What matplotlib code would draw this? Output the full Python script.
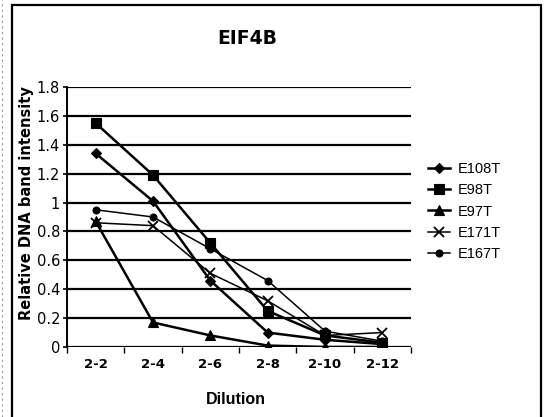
import matplotlib
matplotlib.use("Agg")
import matplotlib.pyplot as plt
from matplotlib.lines import Line2D
from matplotlib.patches import Rectangle

categories = ["2-2", "2-4", "2-6", "2-8", "2-10", "2-12"]
e108t = [1.34, 1.01, 0.46, 0.10, 0.05, 0.02]
e98t = [1.55, 1.19, 0.72, 0.25, 0.08, 0.03]
e97t = [0.87, 0.17, 0.08, 0.01, 0.00, 0.00]
e171t = [0.86, 0.84, 0.51, 0.32, 0.08, 0.10]
e167t = [0.95, 0.90, 0.68, 0.46, 0.11, 0.04]
y_ticks = [0, 0.2, 0.4, 0.6, 0.8, 1.0, 1.2, 1.4, 1.6, 1.8]
y_labels = ["0", "0.2", "0.4", "0.6", "0.8", "1", "1.2", "1.4", "1.6", "1.8"]

series = [
    ("E108T", e108t, "D", 5.5, 1.8),
    ("E98T", e98t, "s", 6.5, 1.8),
    ("E97T", e97t, "^", 6.5, 1.8),
    ("E171T", e171t, "x", 6.5, 1.1),
    ("E167T", e167t, "o", 5.0, 1.1),
]

W, H = 544, 417
fig = plt.figure(figsize=(W / 100, H / 100), dpi=100)
fig.patch.set_facecolor("white")


def fx(px):
    return px / W


def fy(py):
    return 1 - py / H


# outer chart frame
fig.add_artist(Rectangle((fx(12), -0.01), fx(541) - fx(12), fy(5) + 0.01,
                         transform=fig.transFigure, fill=False,
                         edgecolor="black", linewidth=1.6))
fig.add_artist(Line2D([fx(2), fx(2)], [0, 1], transform=fig.transFigure,
                      color="#999999", linewidth=0.8, linestyle=(0, (2, 3))))

left, right, top, bottom = 67, 411, 87, 347
ax = fig.add_axes([fx(left), fy(bottom), fx(right) - fx(left), fy(top) - fy(bottom)])

x = list(range(len(categories)))
for name, vals, mk, ms, lw in series:
    ax.plot(x, vals, color="black", linewidth=lw, marker=mk, markersize=ms,
            markeredgewidth=1.3 if mk == "x" else 0.8, label=name, zorder=3)

ax.set_xlim(-0.5, len(categories) - 0.5)
ax.set_ylim(0, 1.8)
ax.set_yticks(y_ticks)
ax.set_yticklabels(y_labels, fontfamily="DejaVu Sans", fontsize=10.5)
ax.set_xticks(x)
ax.set_xticklabels(categories, fontfamily="DejaVu Sans", fontsize=9.5, fontweight="bold")
ax.tick_params(axis="x", length=0, pad=8)
ax.tick_params(axis="y", length=3, width=1.2, direction="out", pad=2)

# boundary ticks between categories
ax.set_xticks([i - 0.5 for i in range(len(categories) + 1)], minor=True)
ax.tick_params(axis="x", which="minor", length=4, width=1.0, direction="out")

ax.yaxis.grid(True, color="black", linewidth=1.6)
ax.set_axisbelow(True)
for side in ("top", "right", "bottom"):
    ax.spines[side].set_visible(False)
ax.spines["left"].set_linewidth(1.4)

fig.text(fx(27), fy(203), "Relative DNA band intensity", rotation=90,
         ha="center", va="center", fontfamily="DejaVu Sans",
         fontweight="bold", fontsize=10.5)
fig.text(fx(236), fy(400), "Dilution", ha="center", va="center",
         fontfamily="Liberation Sans", fontweight="bold", fontsize=11.5)
fig.text(fx(247), fy(39), "EIF4B", ha="center", va="center",
         fontfamily="DejaVu Sans", fontweight="bold", fontsize=13.5)

handles, labels = ax.get_legend_handles_labels()
leg = fig.legend(handles, labels, loc="upper left",
                 bbox_to_anchor=(fx(428), fy(162)),
                 frameon=False, prop={"family": "Liberation Sans", "size": 10.5},
                 handlelength=1.5, handletextpad=0.55, labelspacing=0.5,
                 borderaxespad=0, borderpad=0)

fig.savefig("out.png", dpi=100, facecolor="white")
